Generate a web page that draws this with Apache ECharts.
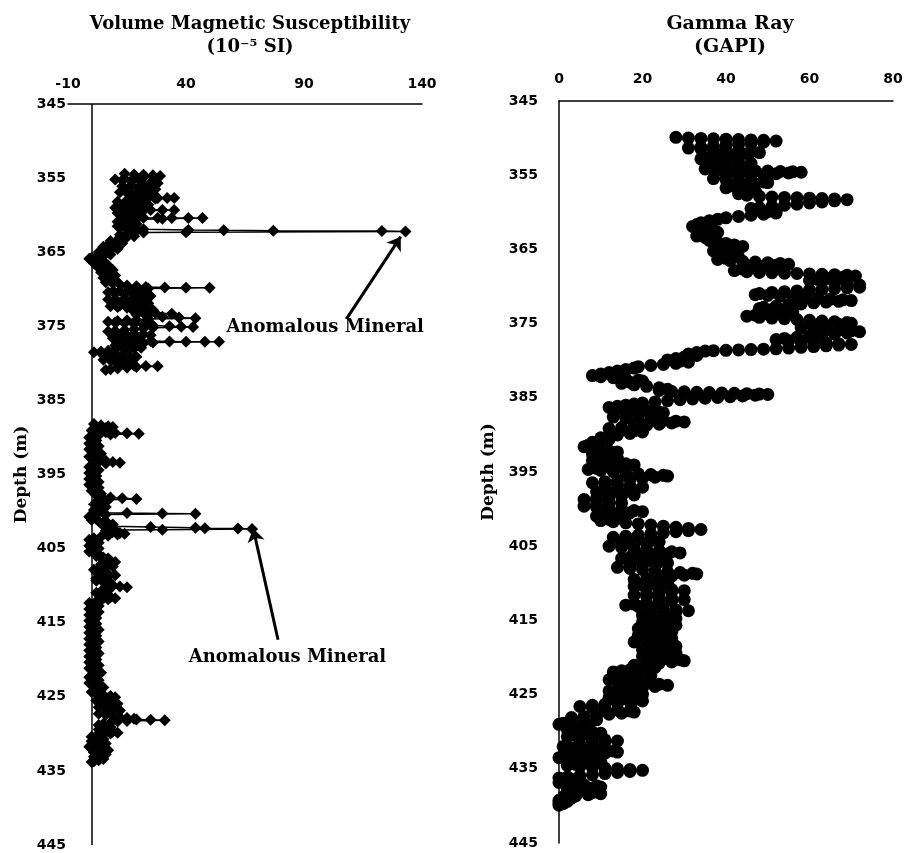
<!DOCTYPE html>
<html>
<head>
    <title>Susceptibility and Gamma Ray logs</title>
    <meta charset="utf-8">
    <script type="text/javascript" src="https://cdn.jsdelivr.net/npm/echarts@6/dist/echarts.min.js"></script>
</head>
<body style="margin:0;background:#fff">
    <div id="main" style="width:906px;height:853px"></div>
    <script type="text/javascript">
    // depth ticks (m), shared by both logs
    var depthMin = 345, depthMax = 445, depthStep = 10;

    // volume magnetic susceptibility, [depth m, value 1e-5 SI], upper interval
    var magUpper = [
        [354.4,14],[354.5,18],[354.55,22],[354.6,26],[354.7,29],[354.8,26],[354.9,22],[355.0,18],[355.1,14],[355.2,10],
        [355.3,13],[355.4,17],[355.5,21],[355.6,25],[355.7,28],[355.8,25],[355.9,21],[356.0,17],[356.1,13],
        [356.2,16],[356.3,20],[356.4,24],[356.5,27],[356.6,24],[356.7,20],[356.8,16],[356.9,12],
        [357.0,15],[357.1,19],[357.2,23],[357.3,26],[357.4,22],[357.5,18],[357.6,20],[357.65,24],[357.7,28],[357.7,32],[357.7,35],
        [357.8,27],[357.9,23],[358.0,19],[358.1,15],[358.2,11],[358.3,14],[358.4,18],[358.5,22],[358.6,24],[358.7,20],[358.8,16],[358.9,12],[359.0,10],
        [359.1,13],[359.2,17],[359.25,21],[359.3,25],[359.3,30],[359.3,35],[359.4,22],[359.5,18],[359.6,14],[359.7,11],
        [359.8,14],[359.9,17],[360.0,19],[360.1,16],[360.2,13],[360.3,17],[360.35,22],[360.4,28],[360.4,34],[360.4,41],[360.4,47],
        [360.5,30],[360.6,19],[360.7,16],[360.8,13],[360.9,11],[361.0,14],[361.1,17],[361.2,19],[361.3,16],[361.4,13],[361.5,11],
        [361.6,14],[361.7,17],[361.8,19],[361.9,22],[362.0,41],[362.05,56],[362.1,77],[362.15,123],[362.2,133],[362.3,40],[362.35,22],
        [362.45,18],[362.55,15],[362.65,12],[362.75,15],[362.85,18],[362.95,15],
        [363.05,12],[363.2,14],[363.35,11],[363.5,8],[363.65,10],[363.8,13],[363.95,10],[364.1,7],[364.25,5],[364.4,8],[364.55,11],
        [364.7,8],[364.85,5],[365.0,3],[365.15,6],[365.3,8],[365.45,5],[365.6,2],[365.75,0],[365.9,-1],[366.05,2],[366.2,5],[366.35,3],[366.5,1],
        [366.65,4],[366.8,7],[366.95,5],[367.1,3],[367.25,6],[367.4,9],[367.55,7],[367.7,4],[367.85,6],[368.0,9],[368.15,10],[368.3,7],[368.45,5],
        [368.6,8],[368.75,10],[368.9,8],[369.05,6],[369.2,9],[369.35,12],[369.5,15],[369.6,19],[369.7,23],[369.75,31],[369.8,40],[369.8,50],
        [369.9,24],[370.0,20],[370.1,16],[370.2,12],[370.3,9],[370.4,7],[370.5,10],[370.6,14],[370.7,18],[370.8,22],[370.9,25],
        [371.0,22],[371.1,18],[371.2,14],[371.3,10],[371.4,7],[371.5,10],[371.6,14],[371.7,18],[371.8,21],[371.9,24],
        [372.0,20],[372.1,16],[372.2,12],[372.3,8],[372.4,11],[372.5,15],[372.6,19],[372.7,23],[372.8,26],
        [372.9,22],[373.0,18],[373.1,22],[373.2,27],[373.3,34],[373.35,24],[373.45,19],[373.55,23],[373.7,30],[373.8,37],[373.9,44],
        [374.0,24],[374.1,19],[374.2,15],[374.3,11],[374.4,7],[374.5,10],[374.6,14],[374.7,18],[374.8,22],[374.9,26],[375.0,33],[375.05,38],[375.1,43],
        [375.2,26],[375.3,22],[375.4,18],[375.5,14],[375.6,10],[375.7,7],[375.8,10],[375.9,14],[376.0,18],[376.1,22],[376.2,25],
        [376.3,21],[376.4,17],[376.5,13],[376.6,9],[376.7,12],[376.8,16],[376.9,20],[377.0,25],[377.05,33],[377.1,40],[377.1,48],[377.1,54],
        [377.2,26],[377.3,22],[377.4,18],[377.5,14],[377.6,10],[377.7,13],[377.8,17],[377.9,21],[378.0,18],[378.1,14],[378.2,10],
        [378.3,7],[378.4,4],[378.5,1],[378.6,4],[378.7,7],[378.8,10],[378.9,13],[379.0,16],[379.1,19],[379.2,16],[379.3,12],[379.4,8],[379.5,5],
        [379.6,8],[379.7,11],[379.8,14],[379.9,17],[380.0,14],[380.1,11],[380.2,14],[380.3,18],[380.35,23],[380.4,28],
        [380.5,19],[380.6,15],[380.7,11],[380.8,8],[380.9,6]
    ];

    // lower interval
    var magLower = [
        [388.2,1],[388.35,4],[388.5,7],[388.6,9],[388.75,6],[388.9,3],[389.05,0],[389.2,3],[389.3,6],[389.4,10],[389.45,15],[389.5,20],[389.6,8],[389.7,3],[389.85,0],
        [390.0,-1],[390.2,1],[390.4,2],[390.6,0],[390.8,-1],[391.0,1],[391.2,3],[391.4,1],[391.6,-1],[391.8,0],[392.0,2],[392.2,4],[392.4,1],[392.6,-1],[392.8,1],
        [393.0,3],[393.15,6],[393.3,9],[393.4,12],[393.5,6],[393.6,2],[393.8,0],[394.0,-1],[394.2,1],[394.4,3],[394.6,1],[394.8,-1],[395.0,0],[395.2,2],[395.4,0],
        [395.6,-1],[395.8,1],[396.0,3],[396.2,1],[396.4,-1],[396.6,1],[396.8,3],[397.0,1],[397.2,0],[397.4,2],[397.6,4],[397.8,2],[398.0,4],[398.1,8],[398.2,13],[398.3,19],
        [398.4,7],[398.5,3],[398.7,6],[398.85,3],[399.0,1],[399.2,4],[399.4,6],[399.6,3],[399.8,1],[400.0,3],[400.15,5],[400.2,15],[400.25,30],[400.3,44],
        [400.4,6],[400.55,2],[400.7,-1],[400.85,0],[401.0,2],[401.15,0],[401.3,3],[401.45,5],[401.6,7],[401.75,9],[401.9,5],[402.0,8],[402.1,25],[402.2,44],[402.25,48],[402.3,62],[402.35,68],
        [402.45,30],[402.5,10],[402.6,6],[402.75,9],[402.9,12],[403.0,14],[403.1,11],[403.25,7],[403.4,4],[403.6,1],[403.8,-1],[404.0,1],[404.2,3],[404.4,0],[404.6,-1],
        [404.8,1],[405.0,3],[405.2,1],[405.4,-1],[405.6,1],[405.8,3],[406.0,2],[406.2,5],[406.35,7],[406.5,5],[406.65,8],[406.8,10],[406.95,7],[407.1,4],[407.25,6],
        [407.4,9],[407.55,6],[407.7,3],[407.85,1],[408.0,3],[408.15,6],[408.3,4],[408.45,7],[408.6,10],[408.75,7],[408.9,4],[409.05,2],[409.2,4],[409.35,2],[409.5,5],
        [409.65,8],[409.8,6],[409.95,9],[410.1,12],[410.2,15],[410.35,8],[410.5,5],[410.65,7],[410.8,4],[410.95,2],[411.1,4],[411.25,7],[411.4,5],[411.55,8],[411.7,10],
        [411.85,7],[412.0,4],[412.15,2],[412.35,-1],[412.55,1],[412.75,3],[412.95,1],[413.15,-1],[413.35,1],[413.55,3],[413.75,1],[413.95,-1],[414.15,0],[414.35,2],
        [414.55,0],[414.75,-1],[414.95,1],[415.15,2],[415.35,0],[415.55,-1],[415.75,1],[415.95,3],[416.15,1],[416.35,-1],[416.55,0],[416.75,2],[416.95,0],[417.15,-1],
        [417.35,1],[417.55,3],[417.75,1],[417.95,-1],[418.15,0],[418.35,2],[418.55,0],[418.75,-1],[418.95,1],[419.15,3],[419.35,1],[419.55,-1],[419.75,1],[419.95,2],
        [420.15,0],[420.35,-1],[420.55,1],[420.75,3],[420.95,1],[421.15,-1],[421.35,0],[421.55,2],[421.75,4],[421.95,2],[422.15,0],[422.35,-1],[422.55,1],[422.75,3],
        [422.95,1],[423.15,-1],[423.35,1],[423.55,3],[423.75,5],[423.95,3],[424.15,1],[424.35,0],[424.55,2],[424.75,5],[424.9,8],[425.05,10],[425.2,7],[425.35,4],
        [425.5,2],[425.65,5],[425.8,8],[425.95,11],[426.1,8],[426.25,5],[426.4,3],[426.55,6],[426.7,9],[426.85,12],[427.0,9],[427.15,6],[427.3,3],[427.45,6],[427.6,9],
        [427.75,12],[427.85,15],[427.95,18],[428.05,19],[428.1,25],[428.15,31],[428.25,15],[428.35,11],[428.5,8],[428.65,5],[428.8,3],[428.95,6],[429.1,8],[429.25,5],
        [429.4,3],[429.55,6],[429.7,9],[429.85,11],[429.95,8],[430.1,5],[430.25,2],[430.4,0],[430.55,3],[430.7,5],[430.85,2],[431.0,0],[431.15,3],[431.3,6],[431.45,4],
        [431.6,1],[431.75,-1],[431.9,2],[432.05,5],[432.2,7],[432.35,4],[432.5,1],[432.65,3],[432.8,6],[432.95,4],[433.1,1],[433.25,3],[433.4,5],[433.55,3],[433.7,1],[433.8,0]
    ];

    // gamma ray, [depth m, GAPI]
    var gammaRay = [
        [349.9,28],[350.0,31],[350.05,34],[350.1,37],[350.15,40],[350.2,43],[350.25,46],[350.3,49],[350.4,52],
        [350.55,49],[350.7,46],[350.85,43],[351.0,40],[351.1,37],[351.2,34],[351.35,31],
        [351.45,34],[351.55,37],[351.65,40],[351.75,43],[351.85,46],[351.95,48],
        [352.1,45],[352.25,42],[352.4,39],[352.6,36],[352.8,34],
        [352.95,37],[353.1,40],[353.25,43],[353.4,46],[353.55,43],[353.7,40],[353.85,38],[354.0,36],[354.15,35],
        [354.25,38],[354.3,41],[354.35,44],[354.4,47],[354.45,50],[354.5,53],[354.55,56],[354.6,58],
        [354.7,55],[354.8,52],[354.9,49],[355.0,46],[355.1,43],[355.25,40],[355.45,37],
        [355.6,40],[355.7,43],[355.8,46],[355.9,49],[356.0,50],
        [356.15,47],[356.3,44],[356.5,42],[356.7,40],
        [356.85,43],[357.0,46],[357.15,47],[357.3,45],[357.5,43],[357.7,45],
        [357.85,48],[357.95,51],[358.0,54],[358.05,57],[358.1,60],[358.15,63],[358.2,66],[358.3,69],
        [358.45,66],[358.6,63],[358.75,60],[358.9,57],[359.05,54],[359.2,51],[359.35,48],[359.5,46],
        [359.7,48],[359.9,50],[360.1,52],
        [360.25,49],[360.4,46],[360.55,43],[360.75,40],[360.95,38],
        [361.15,36],[361.4,34],[361.65,33],[361.9,32],[362.1,33],
        [362.3,35],[362.5,37],[362.7,38],[362.85,36],[363.0,34],[363.2,33],
        [363.4,35],[363.6,37],[363.8,36],[364.0,38],[364.2,40],[364.4,42],[364.6,44],
        [364.8,41],[365.0,39],[365.2,37],[365.4,38],[365.6,40],[365.8,42],[366.0,43],[366.2,40],[366.35,38],
        [366.5,41],[366.6,44],[366.7,47],[366.8,50],[366.9,53],[367.0,55],
        [367.15,52],[367.3,49],[367.45,46],[367.65,44],[367.85,42],
        [368.0,45],[368.1,48],[368.15,51],[368.2,54],[368.25,57],[368.3,60],[368.35,63],[368.4,66],[368.5,69],[368.6,71],
        [368.75,68],[368.9,65],[369.05,62],[369.2,60],[369.35,63],[369.5,66],[369.65,69],[369.8,72],[369.95,69],[370.1,72],
        [370.2,69],[370.3,66],[370.4,63],[370.5,60],[370.6,57],[370.7,54],[370.8,51],[370.95,48],[371.1,47],
        [371.2,50],[371.3,53],[371.4,56],[371.5,59],[371.6,62],[371.7,65],[371.8,68],[371.9,70],
        [372.0,67],[372.1,64],[372.2,61],[372.35,58],[372.5,55],[372.65,52],[372.8,49],[372.95,48],
        [373.1,51],[373.25,54],[373.4,56],[373.55,53],[373.7,50],[373.85,47],[374.0,45],
        [374.15,48],[374.25,51],[374.35,54],[374.45,57],[374.55,60],[374.65,63],[374.75,66],[374.85,69],[374.95,70],
        [375.1,67],[375.25,64],[375.4,61],[375.55,58],
        [375.7,61],[375.8,64],[375.9,67],[376.0,70],[376.1,72],
        [376.25,69],[376.4,66],[376.55,63],[376.7,60],[376.85,57],[377.0,54],[377.15,52],
        [377.3,55],[377.4,58],[377.5,61],[377.6,64],[377.7,67],[377.8,70],
        [377.9,67],[378.0,64],[378.1,61],[378.2,58],[378.3,55],[378.4,52],[378.45,49],[378.5,46],[378.55,43],[378.6,40],[378.65,37],[378.7,35],
        [378.9,33],[379.1,31],[379.3,33],[379.5,30],[379.7,28],[379.9,26],
        [380.05,29],[380.2,31],[380.35,28],[380.5,25],[380.65,22],[380.8,19],[381.0,18],
        [381.2,16],[381.4,14],[381.6,12],[381.8,10],[382.0,8],
        [382.15,10],[382.3,13],[382.45,16],[382.6,19],[382.75,20],[382.9,17],[383.05,15],
        [383.25,18],[383.45,21],[383.65,24],[383.85,26],[384.0,24],
        [384.15,27],[384.2,30],[384.25,33],[384.3,36],[384.35,39],[384.4,42],[384.45,45],[384.5,48],[384.55,50],
        [384.65,47],[384.75,44],[384.85,41],[384.95,38],[385.05,35],[385.15,32],[385.25,29],[385.4,26],[385.55,23],[385.7,20],[385.85,18],
        [386.0,16],[386.15,14],[386.3,12],[386.45,15],[386.6,18],[386.75,21],[386.9,24],[387.0,25],
        [387.15,22],[387.3,19],[387.45,16],[387.6,13],[387.75,16],[387.85,19],[387.95,22],[388.05,25],[388.15,28],[388.25,30],
        [388.4,27],[388.55,24],[388.7,21],[388.85,18],[389.0,15],[389.15,12],[389.3,15],[389.45,18],[389.6,20],
        [389.8,17],[390.0,14],[390.2,12],[390.4,10],[390.6,12],[390.8,10],[391.0,8],[391.2,9],[391.4,7],[391.6,6],
        [391.8,8],[392.0,10],[392.15,12],[392.3,14],[392.45,11],[392.6,8],[392.8,10],[393.0,12],[393.15,14],[393.3,11],[393.45,8],
        [393.6,10],[393.75,13],[393.9,16],[394.05,18],[394.2,15],[394.35,12],[394.5,9],[394.65,7],
        [394.8,10],[394.95,13],[395.1,16],[395.25,19],[395.35,22],[395.45,25],[395.55,26],[395.7,23],[395.85,20],[396.0,17],[396.15,14],[396.3,11],[396.45,8],
        [396.6,11],[396.75,14],[396.9,17],[397.05,20],[397.2,17],[397.35,14],[397.5,11],[397.65,9],
        [397.8,12],[397.95,15],[398.1,18],[398.25,15],[398.4,12],[398.55,9],[398.7,6],
        [398.85,9],[399.0,12],[399.15,15],[399.3,12],[399.45,9],[399.6,6],
        [399.75,9],[399.9,12],[400.05,15],[400.2,18],[400.35,20],[400.5,17],[400.65,14],[400.8,11],[400.95,9],
        [401.1,12],[401.25,15],[401.4,12],[401.55,10],
        [401.7,13],[401.85,16],[402.0,19],[402.15,22],[402.3,25],[402.45,28],[402.6,31],[402.75,34],
        [402.9,31],[403.05,28],[403.2,25],[403.35,22],[403.5,19],[403.65,16],[403.8,13],
        [403.95,16],[404.1,19],[404.25,22],[404.4,24],[404.55,21],[404.7,18],[404.85,15],[405.0,12],
        [405.15,15],[405.3,18],[405.45,21],[405.6,24],[405.75,27],[405.9,29],
        [406.05,26],[406.2,23],[406.35,20],[406.5,17],[406.65,15],
        [406.8,18],[406.95,21],[407.1,24],[407.25,26],[407.4,23],[407.55,20],[407.7,17],[407.85,14],
        [408.0,17],[408.15,20],[408.3,23],[408.45,26],[408.55,29],[408.65,32],[408.75,33],
        [408.9,30],[409.05,27],[409.2,24],[409.35,21],[409.5,18],
        [409.65,21],[409.8,24],[409.95,26],[410.1,23],[410.25,20],[410.4,18],
        [410.55,21],[410.7,24],[410.85,27],[411.0,30],[411.15,27],[411.3,24],[411.45,21],[411.6,18],
        [411.75,21],[411.9,24],[412.05,27],[412.2,30],[412.35,27],[412.5,24],[412.65,21],[412.8,18],[412.95,16],
        [413.1,19],[413.25,22],[413.4,25],[413.55,28],[413.7,31],[413.85,28],[414.0,25],[414.15,22],[414.3,20],
        [414.45,23],[414.6,26],[414.75,28],[414.9,25],[415.05,22],[415.2,20],
        [415.35,23],[415.5,26],[415.65,28],[415.8,25],[415.95,22],[416.1,19],
        [416.25,22],[416.4,25],[416.55,27],[416.7,24],[416.85,21],[417.0,19],
        [417.15,22],[417.3,25],[417.45,27],[417.6,24],[417.75,21],[417.9,18],
        [418.05,21],[418.2,24],[418.35,27],[418.5,28],[418.65,25],[418.8,22],[418.95,20],
        [419.1,23],[419.25,26],[419.4,28],[419.55,25],[419.7,22],[419.85,20],
        [420.0,23],[420.15,26],[420.3,29],[420.45,30],[420.6,27],[420.75,24],[420.9,21],[421.05,18],
        [421.2,21],[421.35,23],[421.5,20],[421.65,17],[421.8,15],[421.95,13],
        [422.1,16],[422.25,19],[422.4,22],[422.55,19],[422.7,16],[422.85,13],[423.0,12],
        [423.15,15],[423.3,18],[423.45,21],[423.6,24],[423.75,26],[423.9,23],[424.05,20],[424.2,17],[424.35,14],[424.5,12],
        [424.65,15],[424.8,18],[424.95,20],[425.1,17],[425.25,14],[425.4,12],
        [425.55,15],[425.7,18],[425.85,20],[426.0,17],[426.15,14],[426.3,11],[426.45,8],[426.6,5],
        [426.75,8],[426.9,11],[427.05,14],[427.2,17],[427.35,18],[427.5,15],[427.65,12],[427.8,9],[427.95,6],[428.1,3],
        [428.25,6],[428.4,9],[428.55,6],[428.7,3],[428.85,1],[429.0,0],
        [429.15,3],[429.3,6],[429.45,7],[429.6,4],[429.75,2],
        [429.9,5],[430.05,8],[430.2,10],[430.35,7],[430.5,4],[430.65,2],
        [430.8,5],[430.95,8],[431.1,11],[431.25,14],[431.4,11],[431.55,8],[431.7,5],[431.85,2],[432.0,1],
        [432.15,4],[432.3,7],[432.45,10],[432.6,13],[432.75,14],[432.9,11],[433.05,8],[433.2,5],[433.35,2],[433.5,0],
        [433.65,3],[433.8,6],[433.95,9],[434.1,10],[434.25,7],[434.4,4],[434.55,2],
        [434.7,5],[434.8,8],[434.9,11],[435.0,14],[435.1,17],[435.2,20],
        [435.35,17],[435.5,14],[435.65,11],[435.8,8],[435.95,5],[436.1,2],[436.25,0],
        [436.4,3],[436.55,5],[436.7,2],[436.85,0],
        [437.0,3],[437.15,6],[437.3,9],[437.45,10],[437.6,7],[437.75,4],[437.9,2],
        [438.05,5],[438.2,8],[438.35,10],[438.5,7],[438.65,4],[438.8,1],
        [438.95,3],[439.1,1],[439.25,0],[439.4,2],[439.55,0],[439.7,1],[439.9,0]
    ];

    // "Anomalous Mineral" callouts: arrow tail, arrow head, text anchor ([value, depth])
    var calloutUpper = { tail: [108, 374], head: [131, 362.9], text: [99, 375.1] };
    var calloutLower = { tail: [79, 417.3], head: [68.5, 402.3], text: [83, 419.7] };

    var serifBold = { fontFamily: 'DejaVu Serif', fontWeight: 'bold', color: '#000' };
    var tickFont = { fontFamily: 'DejaVu Sans', fontWeight: 'bold', fontSize: 14, color: '#000' };

    var myChart = echarts.init(document.getElementById('main'));

    var option = {
        animation: false,
        backgroundColor: '#fff',
        title: [
            {
                text: 'Volume Magnetic Susceptibility\n(10⁻⁵ SI)',
                left: 245, top: 8, textAlign: 'center',
                textStyle: Object.assign({ fontSize: 18, lineHeight: 23 }, serifBold)
            },
            {
                text: 'Gamma Ray\n(GAPI)',
                left: 725, top: 8, textAlign: 'center',
                textStyle: Object.assign({ fontSize: 19, lineHeight: 23 }, serifBold)
            }
        ],
        grid: [
            { left: 68, top: 104, width: 354, height: 741 },
            { left: 559, top: 101, width: 334, height: 742 }
        ],
        xAxis: [
            {
                gridIndex: 0, type: 'value', position: 'top',
                min: -10, max: 140, interval: 50,
                axisLine: { onZero: false, lineStyle: { color: '#000', width: 1.5 } },
                axisTick: { show: false },
                splitLine: { show: false },
                axisLabel: Object.assign({ margin: 13 }, tickFont)
            },
            {
                gridIndex: 1, type: 'value', position: 'top',
                min: 0, max: 80, interval: 20,
                axisLine: { onZero: false, lineStyle: { color: '#000', width: 1.5 } },
                axisTick: { show: false },
                splitLine: { show: false },
                axisLabel: Object.assign({ margin: 15 }, tickFont)
            }
        ],
        yAxis: [
            {
                gridIndex: 0, type: 'value', inverse: true,
                min: depthMin, max: depthMax, interval: depthStep,
                name: 'Depth (m)', nameLocation: 'middle', nameGap: 38,
                nameTextStyle: Object.assign({ fontSize: 17 }, serifBold),
                axisLine: { show: false, onZero: false },
                axisTick: { show: false },
                splitLine: { show: false },
                axisLabel: Object.assign({ margin: 2 }, tickFont)
            },
            {
                gridIndex: 1, type: 'value', inverse: true,
                min: depthMin, max: depthMax, interval: depthStep,
                name: 'Depth (m)', nameLocation: 'middle', nameGap: 62,
                nameTextStyle: Object.assign({ fontSize: 17 }, serifBold),
                axisLine: { onZero: false, lineStyle: { color: '#000', width: 1.5 } },
                axisTick: { show: false },
                splitLine: { show: false },
                axisLabel: Object.assign({ margin: 21 }, tickFont)
            }
        ],
        series: [
            {
                name: 'Susceptibility (upper)', type: 'line',
                xAxisIndex: 0, yAxisIndex: 0,
                data: magUpper, encode: { x: 1, y: 0 },
                symbol: 'diamond', symbolSize: 12,
                itemStyle: { color: '#000' },
                lineStyle: { color: '#000', width: 1.5 },
                // zero line of the susceptibility scale
                markLine: {
                    silent: true, symbol: 'none',
                    label: { show: false },
                    lineStyle: { color: '#000', type: 'solid', width: 1.5 },
                    data: [{ xAxis: 0 }]
                }
            },
            {
                name: 'Susceptibility (lower)', type: 'line',
                xAxisIndex: 0, yAxisIndex: 0,
                data: magLower, encode: { x: 1, y: 0 },
                symbol: 'diamond', symbolSize: 12,
                itemStyle: { color: '#000' },
                lineStyle: { color: '#000', width: 1.5 },
                markLine: {
                    silent: true, symbol: ['none', 'arrow'], symbolSize: 13,
                    label: { show: false },
                    lineStyle: { color: '#000', type: 'solid', width: 3 },
                    data: [
                        [{ coord: calloutUpper.tail }, { coord: calloutUpper.head }],
                        [{ coord: calloutLower.tail }, { coord: calloutLower.head }]
                    ]
                },
                markPoint: {
                    silent: true, symbol: 'circle', symbolSize: 1,
                    itemStyle: { color: 'rgba(0,0,0,0)' },
                    label: Object.assign({ show: true, position: 'inside', fontSize: 18, formatter: 'Anomalous Mineral' }, serifBold),
                    data: [{ coord: calloutUpper.text }, { coord: calloutLower.text }]
                }
            },
            {
                name: 'Gamma Ray', type: 'line',
                xAxisIndex: 1, yAxisIndex: 1,
                data: gammaRay, encode: { x: 1, y: 0 },
                symbol: 'circle', symbolSize: 13,
                itemStyle: { color: '#000' },
                lineStyle: { color: '#000', width: 1 }
            }
        ]
    };

    myChart.setOption(option);
    </script>
</body>
</html>
